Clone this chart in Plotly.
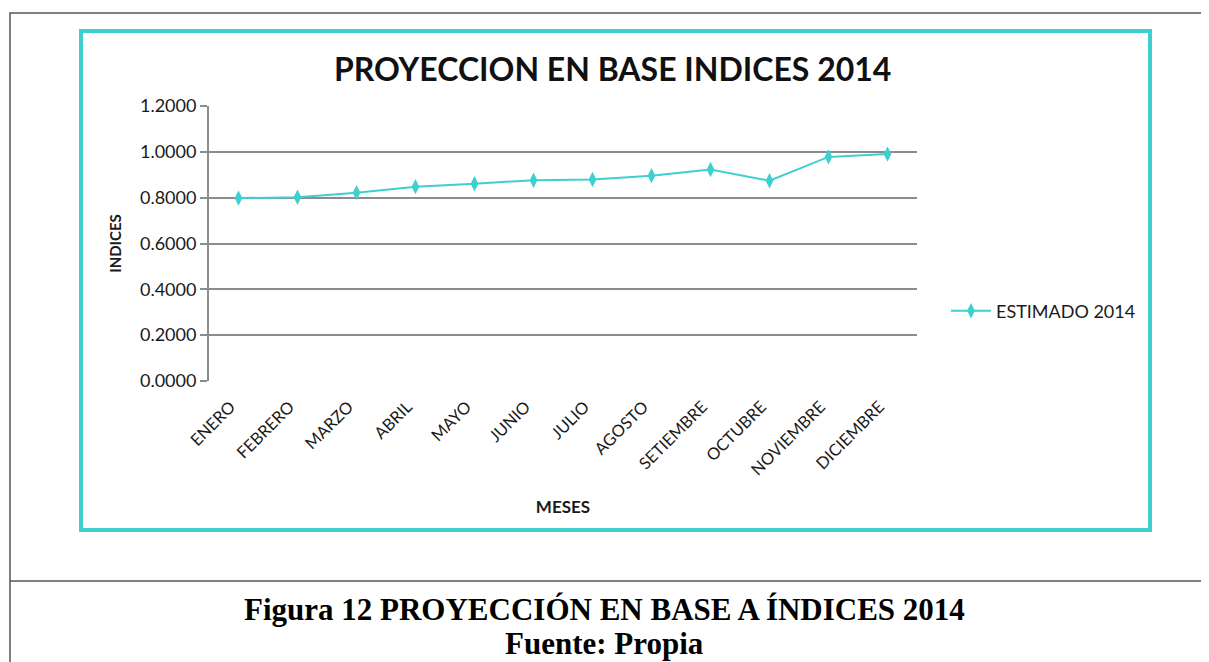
import plotly.graph_objects as go

W, H = 1209, 662
OFF = 8  # page body margin in the browser

meses = ["ENERO", "FEBRERO", "MARZO", "ABRIL", "MAYO", "JUNIO", "JULIO",
         "AGOSTO", "SETIEMBRE", "OCTUBRE", "NOVIEMBRE", "DICIEMBRE"]
estimado_2014 = [0.798, 0.802, 0.822, 0.848, 0.861, 0.876, 0.879,
                 0.896, 0.923, 0.874, 0.978, 0.990]
y_ticks = [0.0, 0.2, 0.4, 0.6, 0.8, 1.0, 1.2]

CYAN = "#3ECFCF"
GRID = "#8C8C8C"
FONT = "Lato"
TXT = "#1a1a1a"

fig = go.Figure()
fig.add_trace(go.Scatter(
    x=meses, y=estimado_2014, mode="lines+markers", name="ESTIMADO 2014",
    line=dict(color=CYAN, width=2),
    marker=dict(symbol="diamond-tall", size=11, color=CYAN),
))

def px_x(v):
    return (v - OFF) / W

def px_y(v):
    return 1 - (v - OFF) / H

fig.update_layout(
    template="none",
    width=W, height=H, autosize=False,
    margin=dict(l=0, r=0, t=0, b=0, pad=0, autoexpand=False),
    paper_bgcolor="white", plot_bgcolor="white",
    showlegend=True,
    legend=dict(x=px_x(946), y=px_y(311), xanchor="left", yanchor="middle",
                font=dict(family=FONT, size=18, color=TXT),
                bgcolor="rgba(0,0,0,0)", itemwidth=40, borderwidth=0),
    xaxis=dict(domain=[px_x(209), px_x(917)], range=[-0.5, len(meses) - 0.5],
               tickangle=-45, automargin=False,
               showgrid=False, showline=False, ticks="", zeroline=False,
               ticklabelstandoff=12, ticklabelshift=-8,
               tickfont=dict(family=FONT, size=16.5, color=TXT),
               title=dict(text="<b>MESES</b>", font=dict(family=FONT, size=17, color=TXT),
                          standoff=22)),
    yaxis=dict(domain=[px_y(381), px_y(106)], range=[0, 1.2], automargin=False,
               tickvals=y_ticks, tickformat=".4f",
               showgrid=True, gridcolor=GRID, gridwidth=2,
               showline=True, linecolor=GRID, linewidth=2,
               ticks="outside", ticklen=7, tickcolor=GRID, tickwidth=2,
               zeroline=False,
               tickfont=dict(family=FONT, size=18, color=TXT),
               title=dict(text="<b>INDICES</b>", font=dict(family=FONT, size=15, color=TXT),
                          standoff=15)),
)

shapes = [
    dict(type="rect", xref="paper", yref="paper",
         x0=px_x(10), x1=px_x(1225), y0=px_y(680), y1=px_y(13),
         line=dict(color="#555555", width=1.5)),
    dict(type="line", xref="paper", yref="paper",
         x0=px_x(10), x1=px_x(1225), y0=px_y(581), y1=px_y(581),
         line=dict(color="#555555", width=1.5)),
    dict(type="rect", xref="paper", yref="paper",
         x0=px_x(81), x1=px_x(1150), y0=px_y(530), y1=px_y(31),
         line=dict(color=CYAN, width=4)),
]
fig.update_layout(shapes=shapes)

fig.add_annotation(text="<b>PROYECCION EN BASE INDICES 2014</b>",
                   xref="paper", yref="paper", x=px_x(613), y=px_y(68),
                   xanchor="center", yanchor="middle",
                   showarrow=False, font=dict(family=FONT, size=32, color="#111111"))
fig.add_annotation(text="<b>Figura 12 PROYECCIÓN EN BASE A ÍNDICES 2014</b>",
                   xref="paper", yref="paper", x=px_x(604), y=px_y(609),
                   xanchor="center", yanchor="middle",
                   showarrow=False, font=dict(family="Liberation Serif", size=31, color="#000000"))
fig.add_annotation(text="<b>Fuente: Propia</b>",
                   xref="paper", yref="paper", x=px_x(604), y=px_y(643),
                   xanchor="center", yanchor="middle",
                   showarrow=False, font=dict(family="Liberation Serif", size=31, color="#000000"))

fig.write_html("out.html")
